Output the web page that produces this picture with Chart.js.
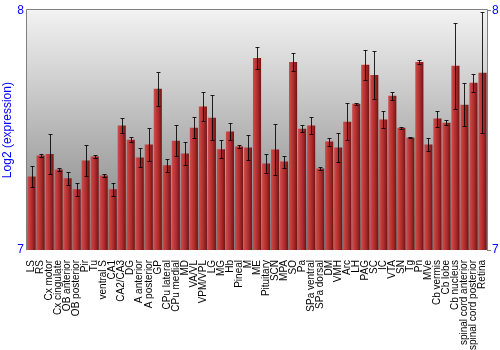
<!DOCTYPE html>
<html>
<head>
<meta charset="utf-8">
<script src="https://cdn.jsdelivr.net/npm/chart.js@4/dist/chart.umd.min.js"></script>
<style>
html,body{margin:0;padding:0;background:#fff;}
#wrap{width:500px;height:350px;position:relative;}
</style>
</head>
<body>
<div id="wrap"><canvas id="c" width="500" height="350"></canvas></div>
<script>
const categories = ["LS","RS","Cx motor","Cx cingulate","OB anterior","OB posterior","Pir","Tu","ventral S","CA1","CA2/CA3","DG","A anterior","A posterior","GP","CPu lateral","CPu medial","MD","VA/VL","VPM/VPL","LG","MG","Hb","Pineal","M","ME","Pituitary","SCN","MPA","SO","Pa","SPa ventral","SPa dorsal","DM","VMH","Arc","LH","PAG","SC","IC","VTA","SN","Tg","Pn","MVe","Cb vermis","Cb lobe","Cb nucleus","spinal cord anterior","spinal cord posterior","Retina"];
const values = [7.307,7.394,7.400,7.336,7.299,7.253,7.373,7.390,7.311,7.253,7.519,7.460,7.386,7.440,7.672,7.353,7.456,7.402,7.510,7.598,7.552,7.420,7.494,7.432,7.427,7.801,7.361,7.419,7.369,7.784,7.506,7.519,7.340,7.452,7.427,7.535,7.610,7.772,7.730,7.544,7.643,7.510,7.469,7.784,7.440,7.548,7.531,7.768,7.606,7.697,7.739];
const errors = [0.043,0.008,0.083,0.005,0.027,0.027,0.066,0.005,0.006,0.027,0.030,0.010,0.040,0.070,0.070,0.028,0.064,0.047,0.045,0.060,0.093,0.037,0.036,0.005,0.052,0.045,0.041,0.105,0.025,0.036,0.015,0.035,0.006,0.017,0.060,0.078,0.004,0.063,0.100,0.035,0.016,0.004,0.002,0.010,0.029,0.033,0.010,0.178,0.090,0.037,0.253];
const yTicks = [7, 8];

const FONT = "'Liberation Sans', Arial, sans-serif";

function barGradient(ctx) {
  const chart = ctx.chart;
  const xs = chart.scales.x;
  if (!xs || !chart.chartArea) return '#b03030';
  const cx = xs.getPixelForValue(ctx.dataIndex);
  const w = (xs.width / categories.length) * 0.9;
  const g = chart.ctx.createLinearGradient(cx - w / 2, 0, cx + w / 2, 0);
  g.addColorStop(0, '#c85050');
  g.addColorStop(0.25, '#c43c3c');
  g.addColorStop(0.6, '#a82a2a');
  g.addColorStop(1, '#6e1414');
  return g;
}

const bgPlugin = {
  id: 'bg',
  beforeDatasetsDraw(chart) {
    const {ctx, chartArea: a} = chart;
    const g = ctx.createLinearGradient(0, a.top, 0, a.bottom);
    g.addColorStop(0, '#f2f2f2');
    g.addColorStop(1, '#7c7c7c');
    ctx.save();
    ctx.fillStyle = g;
    ctx.fillRect(a.left, a.top, a.right - a.left, a.bottom - a.top);
    ctx.restore();
  },
  afterDraw(chart) {
    const {ctx, chartArea: a} = chart;
    ctx.save();
    ctx.strokeStyle = '#808080';
    ctx.lineWidth = 1;
    ctx.beginPath();
    ctx.moveTo(Math.round(a.left) - 0.5, Math.round(a.bottom));
    ctx.lineTo(Math.round(a.left) - 0.5, Math.round(a.top) - 0.5);
    ctx.lineTo(Math.round(a.right) + 0.5, Math.round(a.top) - 0.5);
    ctx.lineTo(Math.round(a.right) + 0.5, Math.round(a.bottom));
    ctx.stroke();
    ctx.restore();
  }
};

const errPlugin = {
  id: 'err',
  afterDatasetsDraw(chart) {
    const {ctx} = chart;
    const ys = chart.scales.y;
    const meta = chart.getDatasetMeta(0);
    ctx.save();
    ctx.strokeStyle = 'rgba(0,0,0,0.85)';
    ctx.lineWidth = 1;
    meta.data.forEach((el, i) => {
      const x = Math.round(el.x) + 0.5;
      const hi = Math.min(values[i] + errors[i], ys.max);
      const lo = Math.max(values[i] - errors[i], ys.min);
      const yt = Math.round(ys.getPixelForValue(hi)) + 0.5;
      const yb = Math.round(ys.getPixelForValue(lo)) + 0.5;
      ctx.beginPath();
      ctx.moveTo(x, yt); ctx.lineTo(x, yb);
      ctx.moveTo(x - 2, yt); ctx.lineTo(x + 2, yt);
      ctx.moveTo(x - 2, yb); ctx.lineTo(x + 2, yb);
      ctx.stroke();
    });
    ctx.restore();
  }
};

new Chart(document.getElementById('c'), {
  type: 'bar',
  data: {
    labels: categories,
    datasets: [{
      data: values,
      backgroundColor: barGradient,
      borderWidth: 0,
      categoryPercentage: 1.0,
      barPercentage: 0.9
    }]
  },
  options: {
    responsive: false,
    animation: false,
    devicePixelRatio: 1,
    layout: {padding: {top: 9, left: 0, right: 0, bottom: 0}},
    plugins: {legend: {display: false}, tooltip: {enabled: false}},
    scales: {
      x: {
        grid: {display: false},
        border: {display: false},
        ticks: {
          autoSkip: false, maxRotation: 90, minRotation: 90, padding: 2,
          color: '#000', font: {family: FONT, size: 10}
        },
        afterFit(s) { s.height = 100; }
      },
      y: {
        position: 'left',
        min: 7, max: 8,
        afterBuildTicks(s) { s.ticks = yTicks.map(v => ({value: v})); },
        grid: {display: false, drawTicks: false},
        border: {display: false},
        ticks: {color: '#0000ff', padding: 3, font: {family: FONT, size: 12}},
        title: {display: true, text: 'Log2 (expression)', color: '#0000ff', padding: {top: 0, bottom: 0}, font: {family: FONT, size: 12}},
        afterFit(s) { s.width = 27; }
      },
      y2: {
        position: 'right',
        min: 7, max: 8,
        afterBuildTicks(s) { s.ticks = yTicks.map(v => ({value: v})); },
        grid: {drawOnChartArea: false, drawTicks: true, tickLength: 4, color: '#808080'},
        border: {display: false},
        ticks: {color: '#0000ff', padding: 1, font: {family: FONT, size: 12}},
        afterFit(s) { s.width = 13; }
      }
    }
  },
  plugins: [bgPlugin, errPlugin]
});
</script>
</body>
</html>
